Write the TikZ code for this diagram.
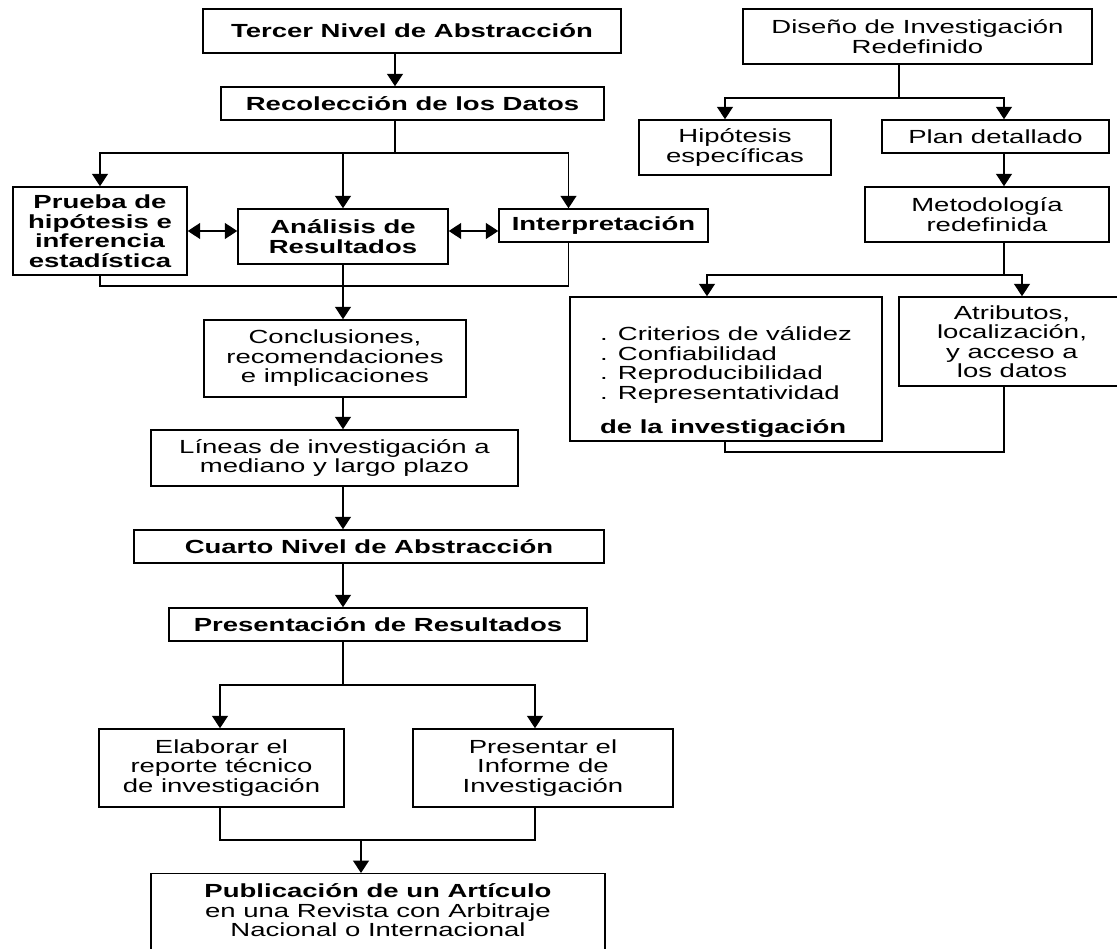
\documentclass[tikz,border=0pt]{standalone}
\usepackage{fontspec}
\setmainfont{Liberation Sans}[FakeStretch=1.45]
\usetikzlibrary{arrows.meta,calc,positioning}

\tikzset{
  caja/.style={draw, inner sep=0pt, align=center},
  flecha/.style={-{Triangle[length=0.25cm,width=0.32cm]}},
  doble/.style={{Triangle[length=0.25cm,width=0.32cm]}-{Triangle[length=0.25cm,width=0.32cm]}},
  negrita/.style={font=\fontsize{10.8pt}{11.1pt}\selectfont\bfseries},
}

\begin{document}
\begin{tikzpicture}[x=0.02cm, y=-0.02cm, line width=0.85pt, every node/.style={font=\fontsize{10.8pt}{11.1pt}\selectfont}]
	\useasboundingbox (0,0) rectangle (1117,949);
	\clip (0,0) rectangle (1117,949);

	% columna izquierda
	\node[caja, negrita, minimum width=8.36cm, minimum height=0.88cm] (tercer) at (412,31) {Tercer Nivel de Abstracción};
	\node[caja, negrita, minimum width=7.66cm, minimum height=0.66cm] (recol) at (412.5,103.5) {Recolección de los Datos};
	\node[caja, negrita, minimum width=3.48cm, minimum height=1.76cm] (prueba) at (100,231) {Prueba de\\hipótesis e\\inferencia\\estadística};
	\node[caja, negrita, minimum width=4.2cm, minimum height=1.1cm] (analisis) at (343,236.5) {Análisis de\\Resultados};
	\node[caja, negrita, minimum width=4.18cm, minimum height=0.66cm] (interp) at (603.5,225.5) {Interpretación};
	\node[caja, minimum width=5.24cm, minimum height=1.54cm] (concl) at (335,358.5) {Conclusiones,\\recomendaciones\\e implicaciones};
	\node[caja, minimum width=7.34cm, minimum height=1.12cm] (lineas) at (334.5,458) {Líneas de investigación a\\mediano y largo plazo};
	\node[caja, negrita, minimum width=9.4cm, minimum height=0.66cm] (cuarto) at (369,546.5) {Cuarto Nivel de Abstracción};
	\node[caja, negrita, minimum width=8.36cm, minimum height=0.66cm] (present) at (378,624.5) {Presentación de Resultados};
	\node[caja, minimum width=4.9cm, minimum height=1.56cm] (elab) at (221.5,768) {Elaborar el\\reporte técnico\\de investigación};
	\node[caja, minimum width=5.2cm, minimum height=1.56cm] (presentar) at (543,768) {Presentar el\\Informe de\\Investigación};
	\node[caja, anchor=north, minimum width=9.08cm, minimum height=2.4cm] (public) at (378,873) {};
	\node[anchor=north, align=center, inner sep=0pt] (publictxt) at ($(public.north)+(0,10)$) {\textbf{Publicación de un Artículo}\\en una Revista con Arbitraje\\Nacional o Internacional};

	% columna derecha
	\node[caja, minimum width=6.98cm, minimum height=1.1cm] (diseno) at (917.5,36.5) {Diseño de Investigación\\Redefinido};
	\node[caja, minimum width=3.84cm, minimum height=1.1cm] (hipo) at (735,147.5) {Hipótesis\\específicas};
	\node[caja, minimum width=4.54cm, minimum height=0.66cm] (plan) at (995.5,136.5) {Plan detallado};
	\node[caja, minimum width=4.88cm, minimum height=1.1cm] (metod) at (987,214.5) {Metodología\\redefinida};
	\node[caja, align=left, minimum width=6.24cm, minimum height=2.88cm] (criter) at (726,369) {\rule{0pt}{0.8cm}. Criterios de válidez\\. Confiabilidad\\. Reproducibilidad\\. Representatividad\\[0.29cm]\textbf{de la investigación}};
	\node[caja, minimum width=4.52cm, minimum height=1.78cm] (atrib) at (1012,341.5) {Atributos,\\localización,\\y acceso a\\los datos};

	% conectores izquierda
	\coordinate (r1) at (395,153);
	\coordinate (r2) at (343,286);
	\coordinate (eje) at (343,0);
	\draw[flecha] (r1 |- tercer.south) -- (r1 |- recol.north);
	\draw (r1 |- recol.south) -- (r1);
	\draw[flecha] (r1) -| (prueba.north);
	\draw[flecha] (r1 -| analisis.north) -- (analisis.north);
	\draw[flecha] (r1) -| ($(interp.north)+(-35,0)$);
	\draw[doble] (prueba.east) -- (prueba.east -| analisis.west);
	\draw[doble] (prueba.east -| analisis.east) -- (prueba.east -| interp.west);
	\draw (prueba.south) |- (r2) -| ($(interp.south)+(-35,0)$);
	\draw[flecha] (eje |- analisis.south) -- (eje |- concl.north);
	\draw[flecha] (eje |- concl.south) -- (eje |- lineas.north);
	\draw[flecha] (eje |- lineas.south) -- (eje |- cuarto.north);
	\draw[flecha] (eje |- cuarto.south) -- (eje |- present.north);

	\coordinate (p1) at (343,685);
	\coordinate (p2) at (361,840);
	\draw (eje |- present.south) -- (p1);
	\draw[flecha] (p1) -| ($(elab.north)+(-1.5,0)$);
	\draw[flecha] (p1) -| ($(presentar.north)+(-8,0)$);
	\draw ($(elab.south)+(-1.5,0)$) |- (p2) -| ($(presentar.south)+(-8,0)$);
	\draw[flecha] (p2) -- (p2 |- public.north);

	% conectores derecha
	\coordinate (d1) at (899,98);
	\coordinate (m1) at (1004,275);
	\coordinate (m2) at (1004,452);
	\draw (d1 |- diseno.south) -- (d1);
	\draw[flecha] (d1) -| ($(hipo.north)+(-10,0)$);
	\draw[flecha] (d1) -| (m1 |- plan.north);
	\draw[flecha] (m1 |- plan.south) -- (m1 |- metod.north);
	\draw (m1 |- metod.south) -- (m1);
	\draw[flecha] (m1) -| ($(criter.north)+(-19,0)$);
	\draw[flecha] (m1) -| ($(atrib.north)+(10,0)$);
	\draw ($(criter.south)+(-1,0)$) |- (m2) -- (m2 |- atrib.south);
\end{tikzpicture}
\end{document}
